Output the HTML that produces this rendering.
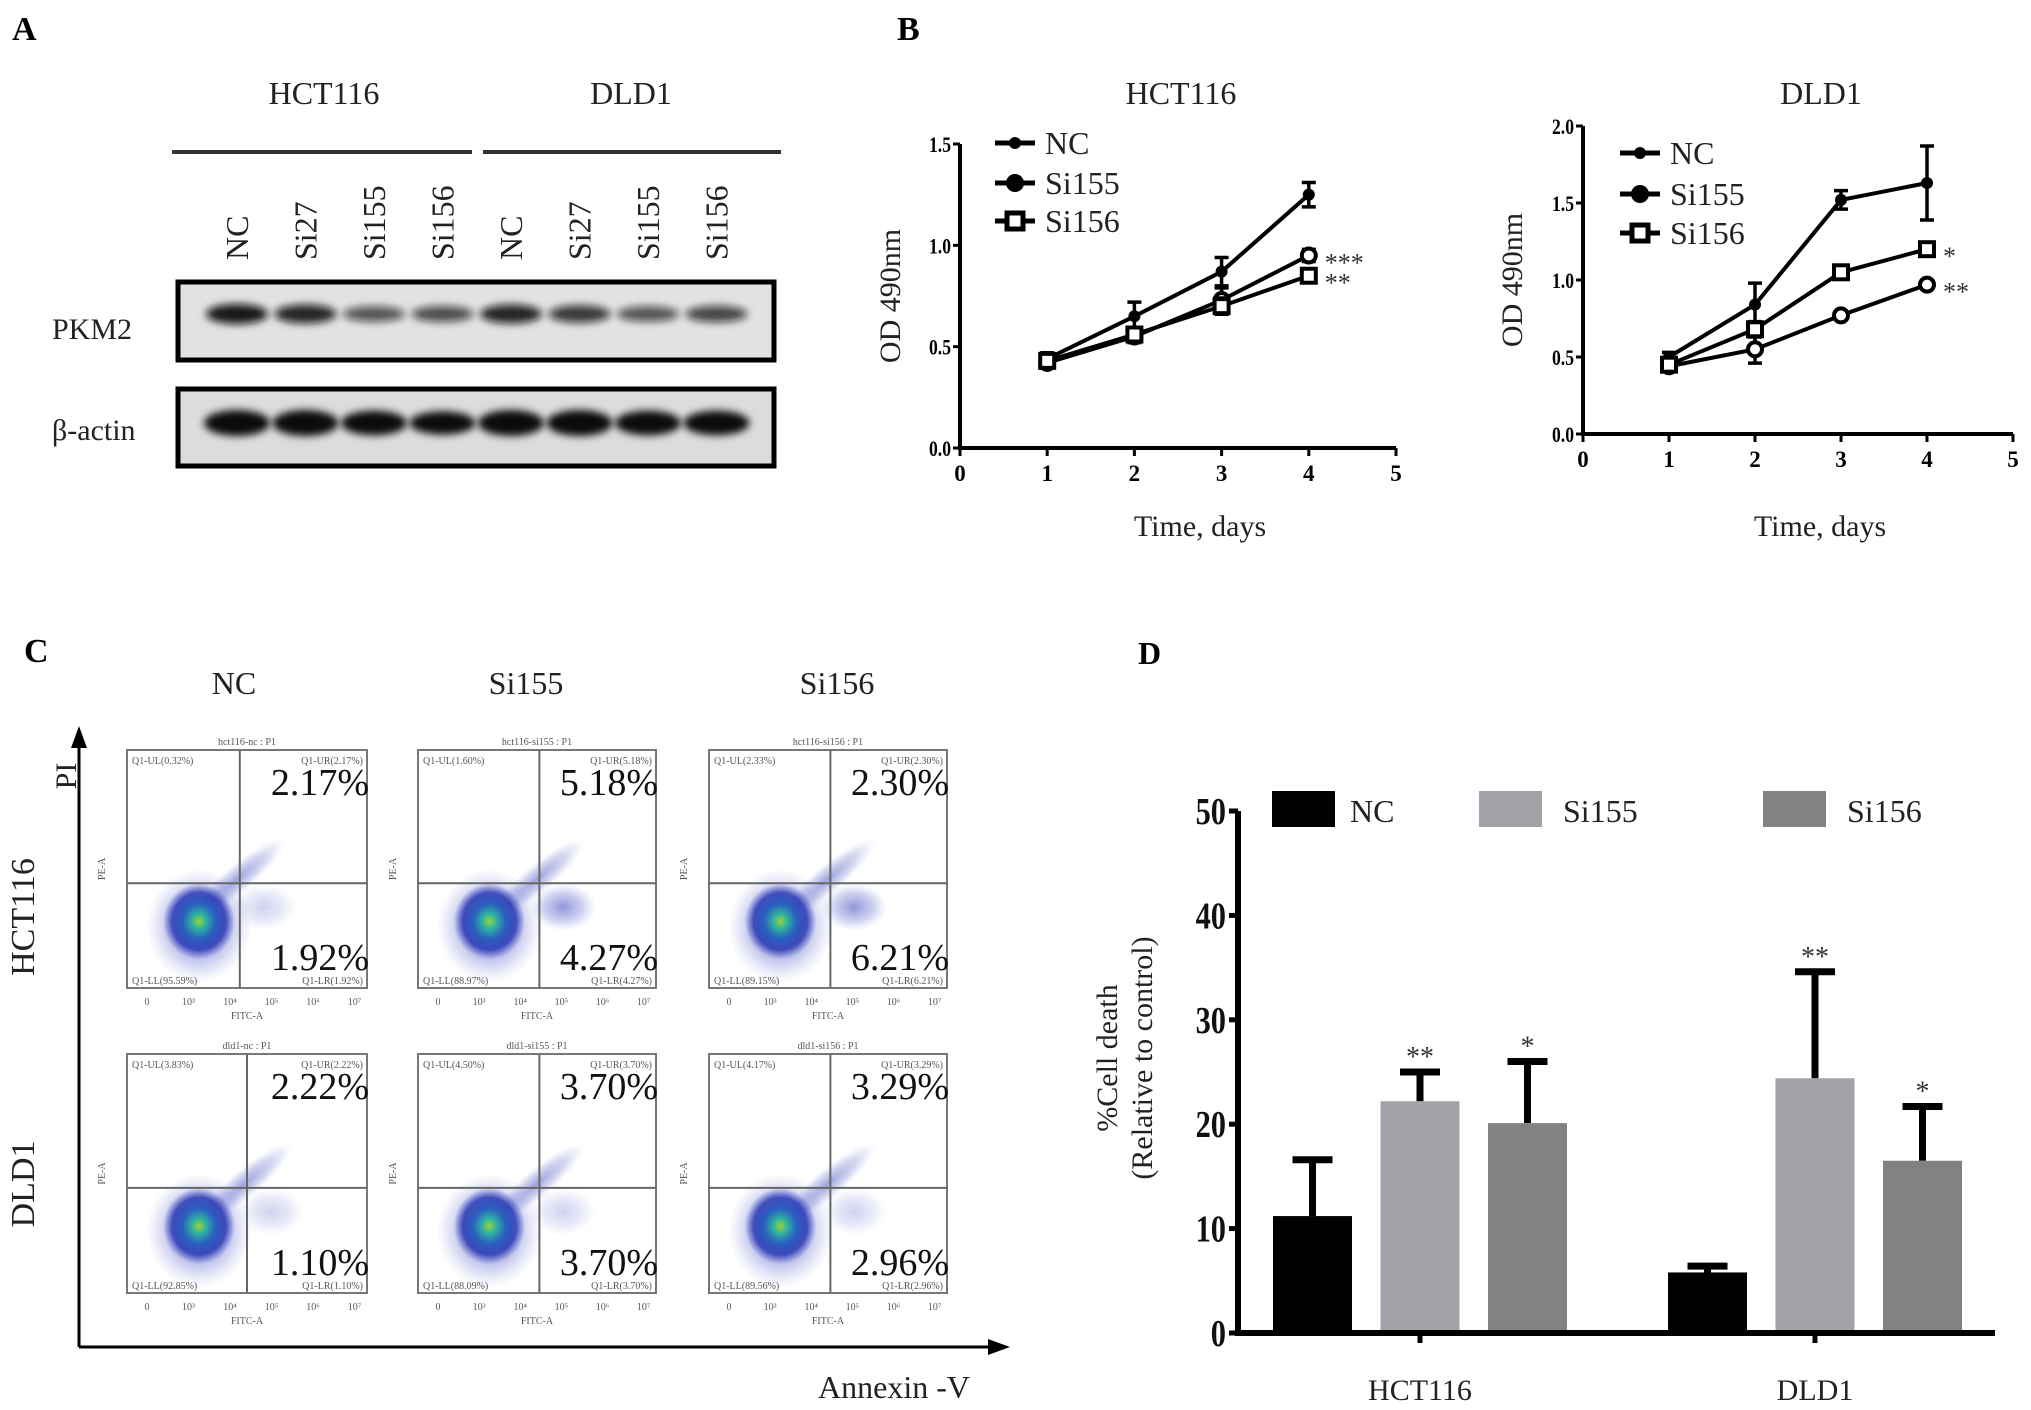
<!DOCTYPE html>
<html><head><meta charset="utf-8"><style>
body{margin:0;background:#fff}
svg{display:block}
text{font-family:"Liberation Serif",serif}
</style></head><body>
<svg id="fig" width="2031" height="1410" viewBox="0 0 2031 1410" xmlns="http://www.w3.org/2000/svg">
<defs>
<filter id="blur3" x="-20%" y="-50%" width="140%" height="200%"><feGaussianBlur stdDeviation="4"/></filter>
<filter id="blur6" x="-50%" y="-50%" width="200%" height="200%"><feGaussianBlur stdDeviation="7"/></filter>
<radialGradient id="dens" cx="50%" cy="50%" r="50%">
<stop offset="0" stop-color="#9bd23a"/><stop offset="0.2" stop-color="#2fb2a0"/><stop offset="0.45" stop-color="#2a62c0"/><stop offset="0.75" stop-color="#2330b0" stop-opacity="0.8"/><stop offset="1" stop-color="#3a48c8" stop-opacity="0"/>
</radialGradient>
<radialGradient id="haze" cx="50%" cy="50%" r="50%">
<stop offset="0" stop-color="#3644bb" stop-opacity="0.7"/><stop offset="0.6" stop-color="#5560c8" stop-opacity="0.35"/><stop offset="1" stop-color="#8a94dc" stop-opacity="0"/>
</radialGradient>
</defs>

<!-- Panel A -->
<g>
<text x="12" y="40" font-size="34" font-weight="bold">A</text>
<text x="324" y="104" font-size="32" text-anchor="middle" fill="#222">HCT116</text>
<text x="631" y="104" font-size="32" text-anchor="middle" fill="#222">DLD1</text>
<line x1="172" y1="152" x2="472" y2="152" stroke="#333" stroke-width="4"/>
<line x1="483" y1="152" x2="781" y2="152" stroke="#333" stroke-width="4"/>
<g id="lanes" font-size="32" fill="#222"></g>
<rect x="178" y="282" width="596" height="78" fill="#e2e2e2" stroke="#000" stroke-width="5"/>
<rect x="178" y="389" width="596" height="77" fill="#dcdcdc" stroke="#000" stroke-width="5"/>
<g id="bands"></g>
<text x="52" y="339" font-size="30" fill="#222">PKM2</text>
<text x="52" y="440" font-size="30" fill="#222">β-actin</text>
</g>

<!-- Panel B -->
<g>
<text x="897" y="40" font-size="34" font-weight="bold">B</text>
<g id="chartB1"></g>
<g id="chartB2"></g>
</g>

<!-- Panel C -->
<g id="panelC">
<text x="24" y="662" font-size="34" font-weight="bold">C</text>
<text x="234" y="694" font-size="32" text-anchor="middle" fill="#222">NC</text>
<text x="526" y="694" font-size="32" text-anchor="middle" fill="#222">Si155</text>
<text x="837" y="694" font-size="32" text-anchor="middle" fill="#222">Si156</text>
<text transform="translate(34,917) rotate(-90)" font-size="34" text-anchor="middle" fill="#222">HCT116</text>
<text transform="translate(34,1184) rotate(-90)" font-size="34" text-anchor="middle" fill="#222">DLD1</text>
<text transform="translate(76,776) rotate(-90)" font-size="30" text-anchor="middle" fill="#222">PI</text>
<line x1="79" y1="740" x2="79" y2="1347" stroke="#000" stroke-width="3"/>
<polygon points="79,726 71,748 87,748" fill="#000"/>
<line x1="79" y1="1347" x2="995" y2="1347" stroke="#000" stroke-width="3"/>
<polygon points="1010,1347 988,1339 988,1355" fill="#000"/>
<text x="894" y="1398" font-size="32" text-anchor="middle" fill="#222">Annexin -V</text>
</g>

<!-- Panel D -->
<g>
<text x="1138" y="664" font-size="32" font-weight="bold">D</text>
<g id="chartD"></g>
</g>
</svg>
<script>
const NS='http://www.w3.org/2000/svg';
function mk(parent,tag,attrs,txt){const e=document.createElementNS(NS,tag);for(const k in attrs)e.setAttribute(k,attrs[k]);if(txt!==undefined)e.textContent=txt;parent.appendChild(e);return e;}

// ---------- Panel A data ----------
const laneLabels=['NC','Si27','Si155','Si156','NC','Si27','Si155','Si156'];
const pkm2Intensity=[1.0,0.9,0.55,0.6,0.9,0.75,0.55,0.65];
const actinIntensity=[1,1,0.95,0.9,1,1,0.95,0.95];
const laneX0=237, laneStep=68.5;
const lanes=document.getElementById('lanes');
const bands=document.getElementById('bands');
laneLabels.forEach((l,i)=>{
  const x=laneX0+i*laneStep;
  const t=mk(lanes,'text',{transform:`translate(${x+11},260) rotate(-90)`},l);
  
  
  const b=mk(bands,'ellipse',{cx:x,cy:314,rx:31,ry:5+5*pkm2Intensity[i],fill:'#111','fill-opacity':0.35+0.6*pkm2Intensity[i],filter:'url(#blur3)'});
  
  
  const a=mk(bands,'ellipse',{cx:x,cy:423,rx:33,ry:13*actinIntensity[i],fill:'#000','fill-opacity':0.95,filter:'url(#blur3)'});
  
  
});

// ---------- Panel B data ----------
const days=[1,2,3,4];
const hctNC=[0.44,0.65,0.87,1.25];
const hctNCerr=[0.03,0.07,0.07,0.06];
const hctSi155=[0.42,0.55,0.73,0.95];
const hctSi155err=[0.02,0.03,0.06,0.03];
const hctSi156=[0.43,0.56,0.70,0.85];
const hctSi156err=[0.02,0.03,0.04,0.03];
const hctYTicks=[0,0.5,1.0,1.5];
const hctYTickLabels=['0.0','0.5','1.0','1.5'];
const dldNC=[0.50,0.84,1.52,1.63];
const dldNCerr=[0.03,0.14,0.06,0.24];
const dldSi155=[0.44,0.55,0.77,0.97];
const dldSi155err=[0.03,0.09,0.02,0.02];
const dldSi156=[0.45,0.68,1.05,1.20];
const dldSi156err=[0.03,0.05,0.02,0.03];
const dldYTicks=[0,0.5,1.0,1.5,2.0];
const dldYTickLabels=['0.0','0.5','1.0','1.5','2.0'];
const xTicks=[0,1,2,3,4,5];
const hctStars=['***','**'];
const dldStars=['*','**'];

function lineChart(g,o){
  const X=d=>o.x0+d*(o.x5-o.x0)/5;
  const Y=v=>o.y0-v*(o.y0-o.yTop)/o.yMax;
  const ax=mk(g,'path',{d:`M${o.x0},${o.yTop} V${o.y0} H${o.x5}`,stroke:'#000','stroke-width':4,fill:'none'});
  
  
  o.yTicks.forEach((v,i)=>{
    mk(g,'line',{x1:o.x0-7,x2:o.x0,y1:Y(v),y2:Y(v),stroke:'#000','stroke-width':3});
    const t=mk(g,'text',{x:o.x0-9,y:Y(v)+8,'font-size':22,'font-weight':'bold','text-anchor':'end',transform:`translate(${(o.x0-9)*0.2},0) scale(0.8,1)`},o.yLabels[i]);
    
    
  });
  xTicks.forEach(d=>{
    mk(g,'line',{x1:X(d),x2:X(d),y1:o.y0,y2:o.y0+8,stroke:'#000','stroke-width':3});
    const t=mk(g,'text',{x:X(d),y:o.y0+33,'font-size':23,'font-weight':'bold','text-anchor':'middle'},String(d));
    
    
  });
  const tt=mk(g,'text',{x:o.titleX,y:104,'font-size':32,'text-anchor':'middle',fill:'#222'},o.title);
  
  
  const xl=mk(g,'text',{x:(o.x0+o.x5)/2+22,y:536,'font-size':30,'text-anchor':'middle',fill:'#222'},'Time, days');
  
  
  const yl=mk(g,'text',{transform:`translate(${o.yLabelX},${(o.yTop+o.y0)/2}) rotate(-90)`,'font-size':30,'text-anchor':'middle',fill:'#222'},'OD 490nm');
  
  
  const names=['NC','Si155','Si156'];
  o.series.forEach((s,si)=>{
    const sg=mk(g,'g',{});
    
    
    mk(sg,'polyline',{points:days.map((d,i)=>X(d)+','+Y(s.v[i])).join(' '),stroke:'#000','stroke-width':4,fill:'none'});
    days.forEach((d,i)=>{
      const yt=Y(s.v[i]+s.e[i]), yb=Y(s.v[i]-s.e[i]);
      mk(sg,'path',{d:`M${X(d)},${yt}V${yb}M${X(d)-7},${yt}H${X(d)+7}M${X(d)-7},${yb}H${X(d)+7}`,stroke:'#000','stroke-width':3.5});
      let m;
      if(si===0) m=mk(sg,'circle',{cx:X(d),cy:Y(s.v[i]),r:6,fill:'#000'});
      else if(si===1) m=mk(sg,'circle',{cx:X(d),cy:Y(s.v[i]),r:7,fill:'#fff',stroke:'#000','stroke-width':4});
      else m=mk(sg,'rect',{x:X(d)-7,y:Y(s.v[i])-7,width:14,height:14,fill:'#fff',stroke:'#000','stroke-width':4});
      
      
    });
  });
  o.stars.forEach((st,i)=>{
    const s=o.series[o.starSeries[i]];
    const t=mk(g,'text',{x:X(4)+16,y:Y(s.v[3])+16,'font-size':26,fill:'#333'},st);
    
    
  });
  names.forEach((n,i)=>{
    const y=o.legY[i];
    const lg=mk(g,'g',{});
    
    
    mk(lg,'line',{x1:o.legX,x2:o.legX+40,y1:y,y2:y,stroke:'#000','stroke-width':5});
    if(i===0) mk(lg,'circle',{cx:o.legX+20,cy:y,r:6,fill:'#000'});
    else if(i===1) mk(lg,'circle',{cx:o.legX+20,cy:y,r:9,fill:'#000'});
    else mk(lg,'rect',{x:o.legX+12,y:y-8,width:16,height:16,fill:'#fff',stroke:'#000','stroke-width':5});
    mk(lg,'text',{x:o.legX+50,y:y+11,'font-size':32,fill:'#222'},n);
  });
}
lineChart(document.getElementById('chartB1'),{x0:960,x5:1396,y0:448,yTop:144,yMax:1.5,yTicks:hctYTicks,yLabels:hctYTickLabels,title:'HCT116',titleX:1181,yLabelX:900,
  series:[{v:hctNC,e:hctNCerr},{v:hctSi155,e:hctSi155err},{v:hctSi156,e:hctSi156err}],stars:hctStars,starSeries:[1,2],legX:995,legY:[143,183,221]});
lineChart(document.getElementById('chartB2'),{x0:1583,x5:2013,y0:434,yTop:126,yMax:2.0,yTicks:dldYTicks,yLabels:dldYTickLabels,title:'DLD1',titleX:1821,yLabelX:1522,
  series:[{v:dldNC,e:dldNCerr},{v:dldSi155,e:dldSi155err},{v:dldSi156,e:dldSi156err}],stars:dldStars,starSeries:[2,1],legX:1620,legY:[153,194,233]});

// ---------- Panel C ----------
const colX=[[127,367],[418,656],[709,947]];
const rowY=[[750,988],[1054,1293]];
const urPct=[['2.17%','5.18%','2.30%'],['2.22%','3.70%','3.29%']];
const lrPct=[['1.92%','4.27%','6.21%'],['1.10%','3.70%','2.96%']];
const ulPct=[['0.32%','1.60%','2.33%'],['3.83%','4.50%','4.17%']];
const llPct=[['95.59%','88.97%','89.15%'],['92.85%','88.09%','89.56%']];
const sampleNames=[['hct116-nc','hct116-si155','hct116-si156'],['dld1-nc','dld1-si155','dld1-si156']];
const vFrac=[[0.47,0.51,0.51],[0.5,0.51,0.51]];
const pc=document.getElementById('panelC');
const xt=['0','10³','10⁴','10⁵','10⁶','10⁷'];
rowY.forEach(([y1,y2],r)=>colX.forEach(([x1,x2],c)=>{
  const g=mk(pc,'g',{});
  
  
  const w=x2-x1,h=y2-y1;
  const vx=x1+w*vFrac[r][c], hy=y1+h*0.56;
  mk(g,'rect',{x:x1,y:y1,width:w,height:h,fill:'#fff',stroke:'#777','stroke-width':2});
  // density cloud
  mk(g,'ellipse',{cx:x1+w*0.3,cy:y1+h*0.74,rx:w*0.22,ry:h*0.24,fill:'url(#haze)'});
  mk(g,'ellipse',{cx:vx,cy:hy-h*0.02,rx:w*0.26,ry:h*0.06,fill:'url(#haze)','fill-opacity':0.7,transform:`rotate(-40 ${vx} ${hy})`});
  mk(g,'ellipse',{cx:vx+w*0.1,cy:hy+h*0.1,rx:w*0.14,ry:h*0.1,fill:'url(#haze)','fill-opacity':(r===0&&c>0)?0.8:0.35});
  mk(g,'ellipse',{cx:x1+w*0.3,cy:y1+h*0.72,rx:w*0.15,ry:h*0.16,fill:'url(#dens)'});
  mk(g,'line',{x1:vx,x2:vx,y1:y1,y2:y2,stroke:'#666','stroke-width':2});
  mk(g,'line',{x1:x1,x2:x2,y1:hy,y2:hy,stroke:'#666','stroke-width':2});
  mk(g,'text',{x:(x1+x2)/2,y:y1-5,'font-size':10,'text-anchor':'middle',fill:'#555','font-family':'Liberation Sans'},sampleNames[r][c]+' : P1');
  mk(g,'text',{x:x1+5,y:y1+14,'font-size':10,fill:'#555','font-family':'Liberation Sans'},'Q1-UL('+ulPct[r][c]+')');
  mk(g,'text',{x:x2-4,y:y1+14,'font-size':10,'text-anchor':'end',fill:'#555','font-family':'Liberation Sans'},'Q1-UR('+urPct[r][c]+')');
  mk(g,'text',{x:x1+5,y:y2-4,'font-size':10,fill:'#555','font-family':'Liberation Sans'},'Q1-LL('+llPct[r][c]+')');
  mk(g,'text',{x:x2-4,y:y2-4,'font-size':10,'text-anchor':'end',fill:'#555','font-family':'Liberation Sans'},'Q1-LR('+lrPct[r][c]+')');
  const ur=mk(g,'text',{x:x2+2,y:y1+45,'font-size':38,'text-anchor':'end',fill:'#111'},urPct[r][c]);
  
  
  const lr=mk(g,'text',{x:x2+2,y:y2-18,'font-size':38,'text-anchor':'end',fill:'#111'},lrPct[r][c]);
  
  
  xt.forEach((t,i)=>mk(g,'text',{x:x1+20+i*(w-20)/5.3,y:y2+17,'font-size':10,'text-anchor':'middle',fill:'#555','font-family':'Liberation Sans'},t));
  mk(g,'text',{x:(x1+x2)/2,y:y2+31,'font-size':10,'text-anchor':'middle',fill:'#555','font-family':'Liberation Sans'},'FITC-A');
  mk(g,'text',{transform:`translate(${x1-22},${(y1+y2)/2}) rotate(-90)`,'font-size':10,'text-anchor':'middle',fill:'#555','font-family':'Liberation Sans'},'PE-A');
}));

// ---------- Panel D ----------
const groups=['HCT116','DLD1'];
const seriesNames=['NC','Si155','Si156'];
const seriesColors=['#000000','#a2a2a8','#828282'];
const deathMean=[[11.2,22.2,20.1],[5.8,24.4,16.5]];
const deathErr=[[5.4,2.8,5.9],[0.6,10.2,5.2]];
const deathStars=[['','**','*'],['','**','*']];
const dTicks=[0,10,20,30,40,50];
(function(){
  const g=document.getElementById('chartD');
  const X0=1238,X1=1995,Y0=1333,Ytop=811;
  const Y=v=>Y0-v*(Y0-Ytop)/50;
  const gc=[1420,1815], bw=79, step=107.5;
  mk(g,'path',{d:`M${X0},${Ytop} V${Y0} H${X1}`,stroke:'#000','stroke-width':6,fill:'none'});
  dTicks.forEach(v=>{
    mk(g,'line',{x1:X0-9,x2:X0,y1:Y(v),y2:Y(v),stroke:'#000','stroke-width':5});
    const t=mk(g,'text',{x:X0-12,y:Y(v)+13,'font-size':38,'font-weight':'bold','text-anchor':'end',fill:'#111',transform:`translate(${(X0-12)*0.2},0) scale(0.8,1)`},String(v));
    
    
  });
  const yl=mk(g,'text',{transform:'translate(1117,1058) rotate(-90)','font-size':30,'text-anchor':'middle',fill:'#222'},'%Cell death');
  
  
  const yl2=mk(g,'text',{transform:'translate(1152,1058) rotate(-90)','font-size':30,'text-anchor':'middle',fill:'#222'},'(Relative to control)');
  
  
  groups.forEach((gn,gi)=>{
    mk(g,'line',{x1:gc[gi],x2:gc[gi],y1:Y0,y2:Y0+10,stroke:'#000','stroke-width':5});
    const t=mk(g,'text',{x:gc[gi],y:1400,'font-size':30,'text-anchor':'middle',fill:'#222'},gn);
    
    
    seriesNames.forEach((sn,si)=>{
      const cx=gc[gi]+(si-1)*step;
      const v=deathMean[gi][si], e=deathErr[gi][si];
      const eb=mk(g,'path',{d:`M${cx},${Y(v)}V${Y(v+e)}M${cx-20},${Y(v+e)}H${cx+20}`,stroke:'#000','stroke-width':7,fill:'none'});
      
      
      const b=mk(g,'rect',{x:cx-bw/2,y:Y(v),width:bw,height:Y0-Y(v)-3,fill:seriesColors[si]});
      
      
      if(deathStars[gi][si]){
        const s=mk(g,'text',{x:cx,y:Y(v+e)-6,'font-size':28,'text-anchor':'middle',fill:'#333'},deathStars[gi][si]);
        
        
      }
    });
  });
  const legX=[1272,1479,1763];
  seriesNames.forEach((sn,si)=>{
    const lg=mk(g,'g',{});
    
    
    mk(lg,'rect',{x:legX[si],y:791,width:63,height:36,fill:seriesColors[si]});
    mk(lg,'text',{x:legX[si]+(si===0?78:84),y:822,'font-size':32,fill:'#222'},sn);
  });
})();
</script>
</body></html>
